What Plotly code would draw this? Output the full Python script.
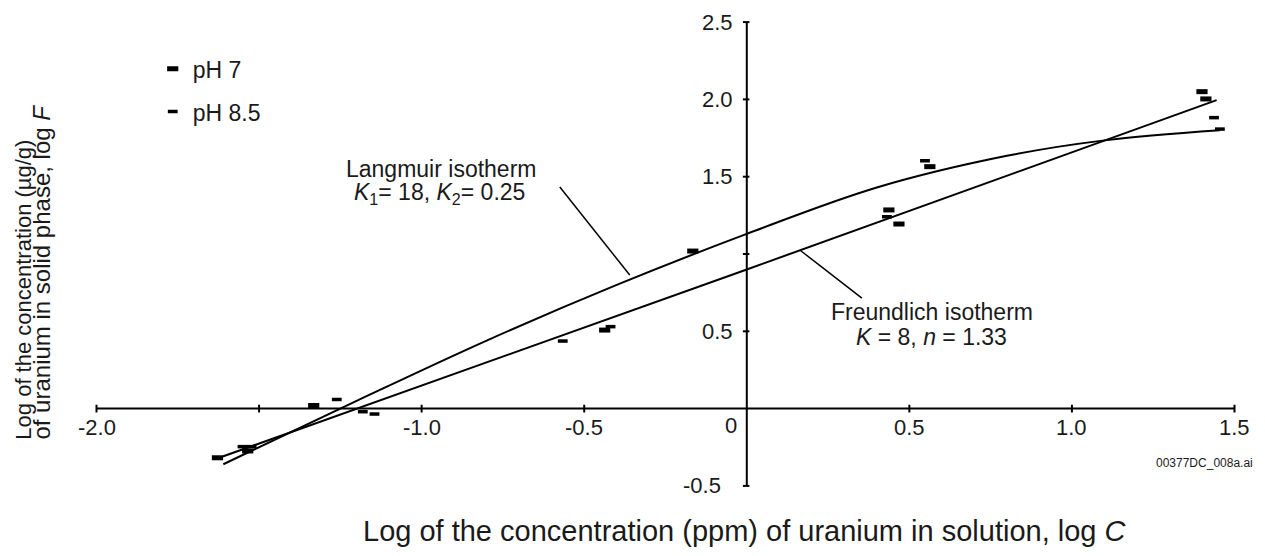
import plotly.graph_objects as go

# ---------------- data ----------------
ph7_x = [-1.628, -1.535, -1.332, -0.437, -0.166, 0.437, 0.468, 0.563, 1.400, 1.412]
ph7_y = [-0.318, -0.274, 0.020, 0.508, 1.019, 1.285, 1.194, 1.565, 2.050, 2.003]

ph85_x = [-1.551, -1.523, -1.261, -1.181, -1.145, -0.566, -0.419, 0.431, 0.548, 1.437, 1.455]
ph85_y = [-0.246, -0.246, 0.059, -0.020, -0.035, 0.437, 0.530, 1.241, 1.603, 1.882, 1.808]

langmuir_x = [-1.61, -1.2, -0.8, -0.4, 0.0, 0.4, 0.8, 1.1, 1.455]
langmuir_y = [-0.36, 0.05, 0.44, 0.80, 1.13, 1.43, 1.635, 1.735, 1.80]

freundlich_x = [-1.612, 0.0, 1.445]
freundlich_y = [-0.31, 0.90, 1.995]

x_ticks = [-2.0, -1.5, -1.0, -0.5, 0.5, 1.0, 1.5]
x_tick_labels = ["-2.0", "", "-1.0", "-0.5", "0.5", "1.0", "1.5"]
y_ticks = [-0.5, 0.5, 1.0, 1.5, 2.0, 2.5]
y_tick_labels = ["-0.5", "0.5", "", "1.5", "2.0", "2.5"]

legend_names = ["pH 7", "pH 8.5"]

# ---------------- style ----------------
FONT = "Liberation Sans, Arial, sans-serif"
TXT = "#1a1a1a"
X_RANGE = [-2.02, 1.52]
Y_RANGE = [-0.52, 2.52]

fig = go.Figure()

fig.add_trace(go.Scatter(x=langmuir_x, y=langmuir_y, mode="lines",
                         line=dict(color="black", width=2, shape="spline", smoothing=1),
                         showlegend=False, hoverinfo="skip"))
fig.add_trace(go.Scatter(x=freundlich_x, y=freundlich_y, mode="lines",
                         line=dict(color="black", width=2),
                         showlegend=False, hoverinfo="skip"))

fig.add_trace(go.Scatter(x=ph7_x, y=ph7_y, mode="markers", name=legend_names[0],
                         legendgroup="a",
                         marker=dict(symbol="line-ew", size=8,
                                     line=dict(color="black", width=5))))
fig.add_trace(go.Scatter(x=ph85_x, y=ph85_y, mode="markers", name=legend_names[1],
                         legendgroup="b",
                         marker=dict(symbol="line-ew", size=7,
                                     line=dict(color="black", width=3.5))))

shapes = []
# axes through origin
shapes.append(dict(type="line", xref="x", yref="y", x0=x_ticks[0], x1=x_ticks[-1],
                   y0=0, y1=0, line=dict(color="black", width=2)))
shapes.append(dict(type="line", xref="x", yref="y", x0=0, x1=0,
                   y0=y_ticks[0], y1=y_ticks[-1], line=dict(color="black", width=2)))
# tick marks
for xv in x_ticks:
    shapes.append(dict(type="line", xref="x", yref="y", x0=xv, x1=xv,
                       y0=-0.025, y1=0.025, line=dict(color="black", width=2)))
for yv in y_ticks:
    shapes.append(dict(type="line", xref="x", yref="y", x0=-0.012, x1=0.008,
                       y0=yv, y1=yv, line=dict(color="black", width=2)))
# leader lines
shapes.append(dict(type="line", xref="x", yref="y", x0=-0.575, y0=1.433, x1=-0.36, y1=0.864,
                   line=dict(color="black", width=1.5)))
shapes.append(dict(type="line", xref="x", yref="y", x0=0.163, y0=1.026, x1=0.354, y1=0.715,
                   line=dict(color="black", width=1.5)))

ann = []
tick_font = dict(family=FONT, size=22, color=TXT)
for xv, lab in zip(x_ticks, x_tick_labels):
    if lab:
        ann.append(dict(x=xv, y=0, xref="x", yref="y", text=lab, showarrow=False,
                        xanchor="center", yanchor="top", yshift=-4, font=tick_font))
ann.append(dict(x=0, y=0, xref="x", yref="y", text="0", showarrow=False,
                xanchor="right", yanchor="top", yshift=-2, xshift=-8, font=tick_font))
for yv, lab in zip(y_ticks, y_tick_labels):
    if lab:
        ann.append(dict(x=0, y=yv, xref="x", yref="y", text=lab, showarrow=False,
                        xanchor="right", yanchor="middle",
                        xshift=-24 if yv < 0 else -12, font=tick_font))

lab_font = dict(family=FONT, size=23, color=TXT)
ann.append(dict(x=-0.941, y=1.552, xref="x", yref="y", text="Langmuir isotherm",
                showarrow=False, xanchor="center", yanchor="middle", font=lab_font))
ann.append(dict(x=-0.945, y=1.39, xref="x", yref="y",
                text="<i>K</i><sub>1</sub>= 18, <i>K</i><sub>2</sub>= 0.25",
                showarrow=False, xanchor="center", yanchor="middle", font=lab_font))
ann.append(dict(x=0.569, y=0.625, xref="x", yref="y", text="Freundlich isotherm",
                showarrow=False, xanchor="center", yanchor="middle", font=lab_font))
ann.append(dict(x=0.569, y=0.463, xref="x", yref="y",
                text="<i>K</i> = 8, <i>n</i> = 1.33",
                showarrow=False, xanchor="center", yanchor="middle", font=lab_font))

# axis titles
ann.append(dict(x=0.569, y=-0.0894, xref="paper", yref="paper",
                text="Log of the concentration (ppm) of uranium in solution, log <i>C</i>",
                showarrow=False, xanchor="center", yanchor="middle",
                font=dict(family=FONT, size=29, color=TXT)))
ann.append(dict(x=-0.0585, y=0.10, xref="paper", yref="paper",
                text="Log of the concentration (µg/g)", textangle=-90,
                showarrow=False, xanchor="center", yanchor="bottom",
                font=dict(family=FONT, size=22, color=TXT)))
ann.append(dict(x=-0.0425, y=0.10, xref="paper", yref="paper",
                text="of uranium in solid phase, log <i>F</i>", textangle=-90,
                showarrow=False, xanchor="center", yanchor="bottom",
                font=dict(family=FONT, size=24, color=TXT)))
ann.append(dict(x=1.012, y=0.055, xref="paper", yref="paper", text="00377DC_008a.ai",
                showarrow=False, xanchor="right", yanchor="middle",
                font=dict(family=FONT, size=12, color=TXT)))

fig.update_layout(
    width=1265, height=556,
    margin=dict(l=90, r=24, t=19, b=67),
    paper_bgcolor="white", plot_bgcolor="white",
    xaxis=dict(range=X_RANGE, visible=False, fixedrange=True),
    yaxis=dict(range=Y_RANGE, visible=False, fixedrange=True),
    shapes=shapes, annotations=ann,
    showlegend=True,
    legend=dict(x=0.0545, y=0.94, xanchor="left", yanchor="top",
                font=dict(family=FONT, size=23, color=TXT),
                bgcolor="rgba(0,0,0,0)", tracegroupgap=10,
                traceorder="grouped", itemwidth=30),
)

fig.write_html("out.html", config={"displayModeBar": False},
               post_script="document.body.style.margin='0';")
